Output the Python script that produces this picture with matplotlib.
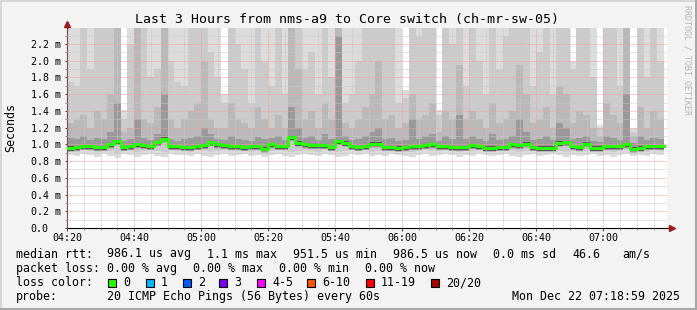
import matplotlib
matplotlib.use('Agg')
import matplotlib.pyplot as plt
import numpy as np
from matplotlib.patches import Rectangle

W, H = 697, 310
MONO = 'DejaVu Sans Mono'

# smoke columns, 2 minutes each, starting at 04:20 (values in ms)
step_min = 2
median = [0.96, 0.97, 0.98, 0.98, 0.97, 0.97, 1.00, 1.04, 0.97, 0.98,
          1.00, 0.99, 0.98, 1.03, 1.07, 0.98, 0.98, 0.97, 0.97, 0.98,
          0.99, 1.03, 1.00, 0.99, 0.98, 0.98, 0.97, 0.98, 0.98, 0.95,
          1.00, 0.98, 0.98, 1.09, 1.02, 1.00, 0.99, 0.99, 0.99, 0.97,
          1.04, 1.02, 0.98, 0.97, 0.98, 1.01, 1.01, 0.97, 0.97, 0.96,
          0.97, 0.98, 0.98, 0.99, 1.00, 0.98, 0.98, 0.97, 0.97, 0.97,
          0.99, 0.98, 0.96, 0.96, 0.97, 0.97, 1.00, 0.99, 1.01, 0.97,
          0.96, 0.96, 0.96, 1.02, 1.03, 0.98, 0.97, 1.01, 0.96, 0.96,
          0.98, 0.98, 0.98, 1.00, 0.95, 0.96, 0.98, 0.98, 0.98]
ping_max = [3.0, 3.0, 3.0, 3.0, 3.0, 3.0, 3.0, 3.0, 1.41, 3.0,
            3.0, 3.0, 3.0, 3.0, 3.0, 3.0, 3.0, 3.0, 3.0, 3.0,
            3.0, 3.0, 3.0, 1.6, 3.0, 3.0, 3.0, 3.0, 3.0, 3.0,
            3.0, 3.0, 3.0, 3.0, 3.0, 3.0, 3.0, 3.0, 3.0, 3.0,
            3.0, 3.0, 3.0, 3.0, 3.0, 3.0, 3.0, 3.0, 3.0, 3.0,
            1.65, 3.0, 3.0, 3.0, 3.0, 1.41, 3.0, 3.0, 3.0, 3.0,
            3.0, 3.0, 3.0, 3.0, 3.0, 3.0, 3.0, 3.0, 3.0, 3.0,
            3.0, 3.0, 3.0, 3.0, 3.0, 2.0, 3.0, 3.0, 3.0, 1.23,
            3.0, 3.0, 3.0, 3.0, 1.2, 3.0, 3.0, 3.0, 3.0]
ping_hi2 = [1.75, 1.7, 3.0, 1.9, 3.0, 2.6, 3.0, 3.0, 1.3, 2.2,
            3.0, 3.0, 1.8, 1.9, 3.0, 2.0, 1.75, 1.7, 3.0, 3.0,
            3.0, 2.1, 1.8, 1.5, 3.0, 2.2, 1.9, 1.5, 3.0, 2.0,
            1.7, 2.4, 1.6, 3.0, 3.0, 1.9, 2.1, 1.6, 3.0, 1.8,
            3.0, 1.5, 1.6, 2.0, 3.0, 3.0, 3.0, 2.5, 3.0, 1.5,
            1.55, 3.0, 2.3, 3.0, 3.0, 1.35, 3.0, 2.2, 3.0, 1.7,
            3.0, 2.0, 1.6, 3.0, 1.9, 2.3, 3.0, 3.0, 3.0, 1.7,
            2.1, 3.0, 1.6, 3.0, 3.0, 1.9, 3.0, 2.4, 1.8, 1.2,
            3.0, 2.6, 1.7, 3.0, 1.15, 3.0, 1.8, 3.0, 2.0]
ping_hi3 = [1.25, 1.3, 1.35, 1.2, 1.4, 1.3, 1.6, 3.0, 1.15, 1.2,
            3.0, 1.3, 1.25, 1.45, 3.0, 1.3, 1.2, 1.3, 1.4, 1.5,
            2.0, 1.3, 1.2, 1.2, 1.5, 1.3, 1.25, 1.2, 1.45, 1.3,
            1.2, 1.35, 1.2, 3.0, 1.9, 1.3, 1.4, 1.2, 1.5, 1.3,
            3.0, 1.25, 1.2, 1.3, 1.45, 1.6, 2.0, 1.3, 1.35, 1.2,
            1.25, 1.6, 1.3, 1.35, 1.5, 1.15, 1.4, 1.3, 1.95, 1.3,
            1.4, 1.3, 1.2, 1.5, 1.25, 1.3, 1.4, 1.95, 1.6, 1.25,
            1.3, 1.45, 1.2, 1.7, 1.6, 1.25, 1.4, 1.35, 1.2, 1.1,
            1.5, 1.35, 1.25, 3.0, 1.1, 1.45, 1.2, 1.4, 1.3]
ping_hi4 = [1.08, 1.06, 1.1, 1.05, 1.08, 1.06, 1.15, 1.5, 1.04, 1.06,
            1.3, 1.08, 1.05, 1.12, 1.6, 1.06, 1.04, 1.07, 1.08, 1.1,
            1.2, 1.12, 1.06, 1.05, 1.1, 1.06, 1.05, 1.04, 1.09, 1.06,
            1.08, 1.1, 1.05, 1.45, 1.2, 1.08, 1.1, 1.05, 1.12, 1.06,
            2.3, 1.1, 1.05, 1.06, 1.1, 1.15, 1.2, 1.06, 1.08, 1.04,
            1.05, 1.3, 1.06, 1.1, 1.12, 1.04, 1.1, 1.06, 1.35, 1.07,
            1.1, 1.06, 1.04, 1.12, 1.05, 1.07, 1.1, 1.3, 1.15, 1.05,
            1.06, 1.1, 1.05, 1.25, 1.2, 1.06, 1.08, 1.1, 1.04, 1.03,
            1.1, 1.08, 1.05, 1.6, 1.02, 1.1, 1.05, 1.08, 1.06]
ping_min = [0.87, 0.86, 0.88, 0.87, 0.85, 0.88, 0.86, 0.84, 0.88, 0.87,
            0.85, 0.87, 0.88, 0.86, 0.85, 0.88, 0.87, 0.87, 0.86, 0.88,
            0.86, 0.85, 0.87, 0.88, 0.86, 0.87, 0.88, 0.86, 0.87, 0.85,
            0.87, 0.88, 0.86, 0.85, 0.87, 0.88, 0.87, 0.86, 0.88, 0.87,
            0.85, 0.86, 0.88, 0.87, 0.88, 0.86, 0.87, 0.86, 0.88, 0.87,
            0.86, 0.85, 0.87, 0.88, 0.86, 0.87, 0.88, 0.87, 0.85, 0.87,
            0.86, 0.88, 0.87, 0.86, 0.87, 0.88, 0.86, 0.85, 0.87, 0.88,
            0.86, 0.87, 0.88, 0.87, 0.85, 0.87, 0.86, 0.87, 0.88, 0.86,
            0.87, 0.85, 0.87, 0.88, 0.86, 0.87, 0.86, 0.88, 0.87]
ping_lo2 = [0.92, 0.91, 0.93, 0.92, 0.91, 0.93, 0.92, 0.90, 0.93, 0.92,
            0.91, 0.92, 0.93, 0.92, 0.91, 0.93, 0.92, 0.92, 0.91, 0.93,
            0.92, 0.91, 0.92, 0.93, 0.92, 0.92, 0.93, 0.91, 0.92, 0.90,
            0.92, 0.93, 0.92, 0.91, 0.92, 0.93, 0.92, 0.91, 0.93, 0.92,
            0.91, 0.92, 0.93, 0.92, 0.93, 0.91, 0.92, 0.92, 0.93, 0.92,
            0.91, 0.91, 0.92, 0.93, 0.92, 0.92, 0.93, 0.92, 0.91, 0.92,
            0.92, 0.93, 0.92, 0.91, 0.92, 0.93, 0.92, 0.91, 0.92, 0.93,
            0.91, 0.92, 0.93, 0.92, 0.91, 0.92, 0.91, 0.92, 0.93, 0.91,
            0.92, 0.91, 0.92, 0.93, 0.90, 0.92, 0.91, 0.93, 0.92]

x_labels = ['04:20', '04:40', '05:00', '05:20', '05:40', '06:00', '06:20', '06:40', '07:00']
y_ticks = [0.0, 0.2, 0.4, 0.6, 0.8, 1.0, 1.2, 1.4, 1.6, 1.8, 2.0, 2.2]

loss_labels = ['0', '1', '2', '3', '4-5', '6-10', '11-19', '20/20']
loss_colors = ['#26ff00', '#00b8ff', '#0059ff', '#7e00ff', '#ff00ff', '#ff5500', '#ff0000', '#a10000']

title = 'Last 3 Hours from nms-a9 to Core switch (ch-mr-sw-05)'
rtt_parts = ['median rtt:', '986.1 us avg', '1.1 ms max', '951.5 us min',
             '986.5 us now', '0.0 ms sd', '46.6', 'am/s']
loss_parts = ['packet loss:', '0.00 % avg', '0.00 % max', '0.00 % min', '0.00 % now']
probe_parts = ['probe:', '20 ICMP Echo Pings (56 Bytes) every 60s']
stamp = 'Mon Dec 22 07:18:59 2025'

med = np.array(median)
x = np.arange(len(med)) * step_min

fig = plt.figure(figsize=(W / 100, H / 100), dpi=100, facecolor='#f3f3f3')

# plot area in pixels: x 67..667, y 28..228
ax = fig.add_axes([67 / W, 1 - 228 / H, 600 / W, 200 / H])
ax.set_facecolor('white')
ax.set_xlim(0, 179)
ax.set_ylim(0, 2.392)

def band(lo, hi, color):
    lo = np.asarray(lo)
    hi = np.asarray(hi)
    ax.bar(x, hi - lo, bottom=lo, width=step_min, align='edge',
           color=color, linewidth=0, antialiased=False, zorder=1)

band(ping_min, ping_max, '#dcdcdc')
band(ping_lo2, ping_hi2, '#cbcbcb')
band(med - 0.05, ping_hi3, '#b9b9b9')
band(med - 0.045, ping_hi4, '#999999')
band(med - 0.035, med + 0.015, '#555555')

xs = np.append(x, x[-1] + step_min)
ax.step(xs, np.append(med, med[-1]), where='post', color='#26ff00', lw=2.2, zorder=3)

ax.set_xticks(np.arange(0, 161, 20), x_labels)
ax.set_xticks(np.arange(0, 179, 5), minor=True)
ax.set_yticks(y_ticks, ['%.1f m' % v if v > 0 else '0.0' for v in y_ticks])
ax.set_yticks(np.arange(0.1, 2.35, 0.2), minor=True)

ax.grid(which='minor', color='#c8c8c8', ls=(0, (1, 1)), lw=0.72)
ax.grid(which='major', color='#f0a0a0', ls=(0, (1, 1)), lw=0.72)
ax.set_axisbelow(False)

ax.tick_params(which='major', length=1.8, width=0.7, color='#444444')
ax.tick_params(which='minor', length=1.2, width=0.7, color='#888888')
ax.tick_params(axis='x', which='major', pad=1.8, labelsize=7.2)
ax.tick_params(axis='y', which='major', pad=24.3, labelsize=7.2)
for lbl in ax.get_xticklabels() + ax.get_yticklabels():
    lbl.set_family(MONO)
for lbl in ax.get_yticklabels():
    lbl.set_ha('left')

for side in ['top', 'right']:
    ax.spines[side].set_visible(False)
for side in ['left', 'bottom']:
    ax.spines[side].set_linewidth(0.8)
    ax.spines[side].set_color('black')

# axis arrows
ax.plot([179, 180.2], [0, 0], color='black', lw=0.8, clip_on=False)
ax.plot([180.6], [0], marker='>', ms=4, color='#9b1c1c', clip_on=False, zorder=5)
ax.plot([0, 0], [2.392, 2.43], color='black', lw=0.8, clip_on=False)
ax.plot([0], [2.44], marker='^', ms=4, color='#9b1c1c', clip_on=False, zorder=5)

def ftext(px, py, s, **kw):
    kw.setdefault('family', MONO)
    kw.setdefault('size', 8.35)
    kw.setdefault('va', 'center')
    fig.text(px / W, 1 - py / H, s, **kw)

ftext(347, 19, title, size=9.5, ha='center')
ftext(11, 128, 'Seconds', rotation=90, ha='center')
ftext(687.5, 60, 'RRDTOOL / TOBI OETIKER', rotation=270, ha='center', size=6.0, color='#b4b4b4')

# legend text, chunk by chunk at the reference columns
for s, px in zip(rtt_parts, [16, 107, 207, 293, 393, 493, 572, 622]):
    ftext(px, 254, s)
for s, px in zip(loss_parts, [16, 107, 193, 279, 365]):
    ftext(px, 268.5, s)
ftext(16, 282.5, 'loss color:')
for s, px in zip(probe_parts, [16, 107]):
    ftext(px, 296.5, s)
ftext(680, 296.5, stamp, ha='right')

box_x = [108, 146, 183, 219, 257, 307, 366, 431]
for bx, lab, col in zip(box_x, loss_labels, loss_colors):
    fig.patches.append(Rectangle((bx / W, 1 - 286.5 / H), 8 / W, 8 / H,
                                 transform=fig.transFigure, facecolor=col,
                                 edgecolor='black', lw=0.8))
    ftext(bx + 15, 282.5, lab)

# 3d-ish frame
fig.patches.append(Rectangle((0, 1 - 2 / H), 1, 2 / H, transform=fig.transFigure, color='#d6d6d6', lw=0))
fig.patches.append(Rectangle((0, 0), 2 / W, 1, transform=fig.transFigure, color='#d6d6d6', lw=0))
fig.patches.append(Rectangle((1 - 2.5 / W, 0), 2.5 / W, 1, transform=fig.transFigure, color='#a6a6a6', lw=0))
fig.patches.append(Rectangle((0, 0), 1, 2.5 / H, transform=fig.transFigure, color='#a6a6a6', lw=0))

fig.savefig('out.png', dpi=100, facecolor=fig.get_facecolor())
